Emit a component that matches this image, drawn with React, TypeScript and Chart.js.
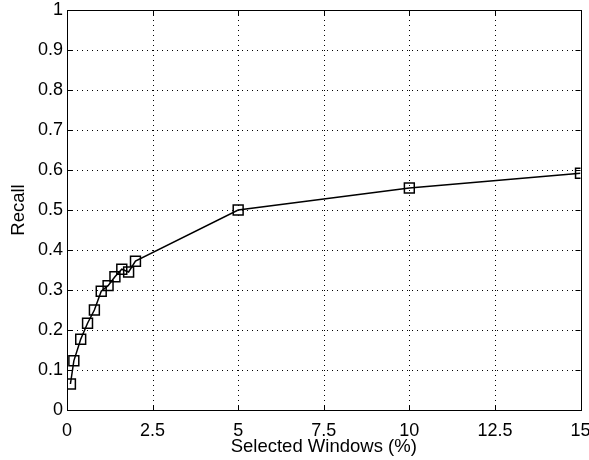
import React, { useEffect, useRef } from "react";
import { Chart, registerables } from "chart.js";

Chart.register(...registerables);

const windowsPct = [0.1, 0.2, 0.4, 0.6, 0.8, 1.0, 1.2, 1.4, 1.6, 1.8, 2.0, 5, 10, 15];
const recall = [0.065, 0.123, 0.177, 0.217, 0.25, 0.297, 0.311, 0.333, 0.352, 0.345, 0.372, 0.5, 0.555, 0.592];
const xTicks = [0, 2.5, 5, 7.5, 10, 12.5, 15];
const yTicks = [0, 0.1, 0.2, 0.3, 0.4, 0.5, 0.6, 0.7, 0.8, 0.9, 1];

const FONT = "'Liberation Sans', Arial, Helvetica, sans-serif";
const FS = 18;
const TFS = 18.5;

const boxPlugin = {
  id: "matlabBox",
  beforeDatasetsDraw(chart: any) {
    const { ctx, chartArea, scales } = chart;
    const { left, right, top, bottom } = chartArea;
    ctx.save();
    ctx.strokeStyle = "#000";
    ctx.lineWidth = 1;
    ctx.setLineDash([1, 4]);
    xTicks.forEach((v) => {
      if (v === xTicks[0] || v === xTicks[xTicks.length - 1]) return;
      const x = Math.round(scales.x.getPixelForValue(v)) + 0.5;
      ctx.beginPath();
      ctx.moveTo(x, top);
      ctx.lineTo(x, bottom);
      ctx.stroke();
    });
    yTicks.forEach((v) => {
      if (v === yTicks[0] || v === yTicks[yTicks.length - 1]) return;
      const y = Math.round(scales.y.getPixelForValue(v)) + 0.5;
      ctx.beginPath();
      ctx.moveTo(left, y);
      ctx.lineTo(right, y);
      ctx.stroke();
    });
    ctx.setLineDash([]);
    const tl = 5;
    xTicks.forEach((v) => {
      const x = Math.round(scales.x.getPixelForValue(v)) + 0.5;
      ctx.beginPath();
      ctx.moveTo(x, bottom);
      ctx.lineTo(x, bottom - tl);
      ctx.moveTo(x, top);
      ctx.lineTo(x, top + tl);
      ctx.stroke();
    });
    yTicks.forEach((v) => {
      const y = Math.round(scales.y.getPixelForValue(v)) + 0.5;
      ctx.beginPath();
      ctx.moveTo(left, y);
      ctx.lineTo(left + tl, y);
      ctx.moveTo(right, y);
      ctx.lineTo(right - tl, y);
      ctx.stroke();
    });
    ctx.strokeRect(Math.round(left) + 0.5, Math.round(top) + 0.5, Math.round(right - left), Math.round(bottom - top));
    ctx.restore();
  },
};

export default function App() {
  const ref = useRef<HTMLCanvasElement | null>(null);
  useEffect(() => {
    if (!ref.current) return;
    const chart = new Chart(ref.current, {
      type: "line",
      data: {
        datasets: [
          {
            data: windowsPct.map((x, i) => ({ x, y: recall[i] })),
            borderColor: "#000",
            borderWidth: 1.5,
            pointStyle: "rect",
            pointRadius: 7,
            pointBorderWidth: 1.5,
            pointBorderColor: "#000",
            pointBackgroundColor: "rgba(0,0,0,0)",
            tension: 0,
            fill: false,
          },
        ],
      },
      options: {
        responsive: false,
        animation: false,
        events: [],
        layout: { padding: { top: 10, right: 8, left: 0, bottom: 0 } },
        plugins: { legend: { display: false }, tooltip: { enabled: false } },
        scales: {
          x: {
            type: "linear",
            min: 0,
            max: 15,
            afterBuildTicks: (s: any) => {
              s.ticks = xTicks.map((v) => ({ value: v }));
            },
            afterFit: (s: any) => {
              s.height = 50;
              s.paddingLeft = 0;
              s.paddingRight = 0;
            },
            grid: { display: false, drawTicks: false },
            border: { display: false },
            ticks: {
              autoSkip: false,
              maxRotation: 0,
              padding: 10,
              color: "#000",
              font: { family: FONT, size: FS },
              callback: (v: any) => String(v),
            },
            title: {
              display: true,
              text: "Selected Windows (%)",
              color: "#000",
              font: { family: FONT, size: TFS },
              padding: { top: 0, bottom: 1.5 },
            },
          },
          y: {
            type: "linear",
            min: 0,
            max: 1,
            afterBuildTicks: (s: any) => {
              s.ticks = yTicks.map((v) => ({ value: v }));
            },
            afterFit: (s: any) => {
              s.width = 67;
              s.paddingTop = 0;
              s.paddingBottom = 0;
            },
            grid: { display: false, drawTicks: false },
            border: { display: false },
            ticks: {
              autoSkip: false,
              padding: 4,
              color: "#000",
              font: { family: FONT, size: FS },
              callback: (v: any) => String(Math.round(v * 10) / 10),
            },
            title: {
              display: true,
              text: "Recall",
              color: "#000",
              font: { family: FONT, size: TFS },
              padding: { top: 7.5, bottom: 0 },
            },
          },
        },
      },
      plugins: [boxPlugin],
    });
    return () => chart.destroy();
  }, []);
  return (
    <div style={{ position: "fixed", left: 0, top: 0, width: 589, height: 460, background: "#fff" }}>
      <canvas ref={ref} width={589} height={460} style={{ display: "block" }} />
    </div>
  );
}
